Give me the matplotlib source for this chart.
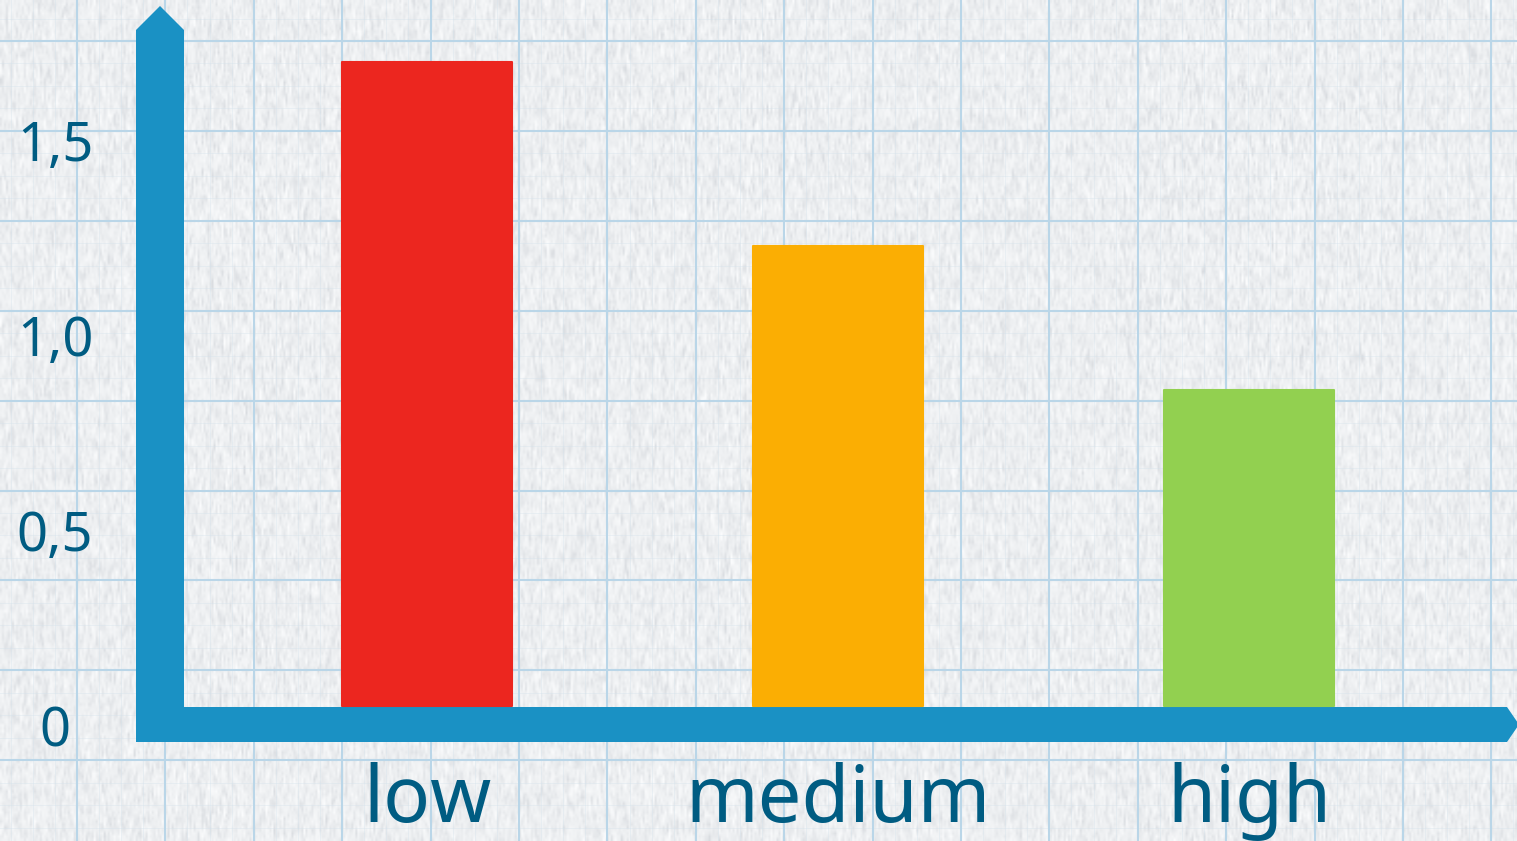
import matplotlib.pyplot as plt
import numpy as np
from matplotlib.patches import Polygon
from matplotlib.colors import LinearSegmentedColormap
from matplotlib.transforms import offset_copy

categories = ["low", "medium", "high"]
values = [1.65, 1.18, 0.81]
bar_colors = ["#EC261F", "#FBAE03", "#92D050"]
yticks = [0, 0.5, 1.0, 1.5]
ytick_labels = ["0", "0,5", "1,0", "1,5"]

W, H = 1517, 841
blue = "#1A91C4"
text_color = "#005C82"

plt.rcParams['font.family'] = ['Noto Sans', 'DejaVu Sans']

fig = plt.figure(figsize=(W / 100, H / 100), dpi=100)

# paper background, drawn in pixel coordinates
bg = fig.add_axes([0, 0, 1, 1], zorder=0)
bg.set_xlim(0, W)
bg.set_ylim(H, 0)
bg.axis("off")
paper = LinearSegmentedColormap.from_list("paper", ["#DADDE1", "#EEF0F2", "#FBFCFD"])
rng = np.random.default_rng(7)
tex = rng.normal(size=(280, 760))
tex = (tex + np.roll(tex, 1, axis=0) + np.roll(tex, 2, axis=0)) / 3
bg.imshow(tex, cmap=paper, vmin=-1.6, vmax=1.6, extent=[0, W, H, 0],
          interpolation="bilinear", aspect="auto")

# graph paper lines
for x in np.arange(77 - 88.4, W, 88.4 / 4):
    bg.axvline(x, color="#D3E2EC", lw=0.7, alpha=0.35, zorder=1)
for y in np.arange(41 - 89.9, H, 89.9 / 4):
    bg.axhline(y, color="#D3E2EC", lw=0.7, alpha=0.35, zorder=1)
for x in np.arange(77, W, 88.4):
    bg.axvline(x, color="#BAD6E8", lw=1.5, zorder=2)
for y in np.arange(41, H, 89.9):
    bg.axhline(y, color="#BAD6E8", lw=1.5, zorder=2)

# L-shaped arrow axes
arrow = Polygon([(136, 742), (136, 30), (160, 6), (184, 30), (184, 707),
                 (1507, 707), (1519, 724.5), (1507, 742)],
                closed=True, facecolor=blue, edgecolor="none", zorder=3)
bg.add_patch(arrow)

# data axes
ax = fig.add_axes([0, 0, 1, 1], zorder=1)
ax.patch.set_alpha(0)
ax.axis("off")
ax.set_xlim(-1.039, 2.652)
ax.set_ylim(-0.346, 1.810)

x = np.arange(len(categories))
ax.bar(x, values, width=0.414, color=bar_colors, edgecolor=bar_colors,
       linewidth=1.5, joinstyle="round")

tick_tr = offset_copy(ax.transData, fig, x=0, y=-26, units="dots")
for v, lab in zip(yticks, ytick_labels):
    ax.text(-0.905, v, lab, transform=tick_tr, ha="center", va="center",
            fontsize=39, color=text_color)

cat_tr = offset_copy(ax.transData, fig, x=0, y=-116, units="dots")
for xi, cat in zip(x, categories):
    ax.text(xi, 0, cat, transform=cat_tr, ha="center", va="baseline",
            fontsize=56, color=text_color)

fig.savefig("out.png", dpi=100)
